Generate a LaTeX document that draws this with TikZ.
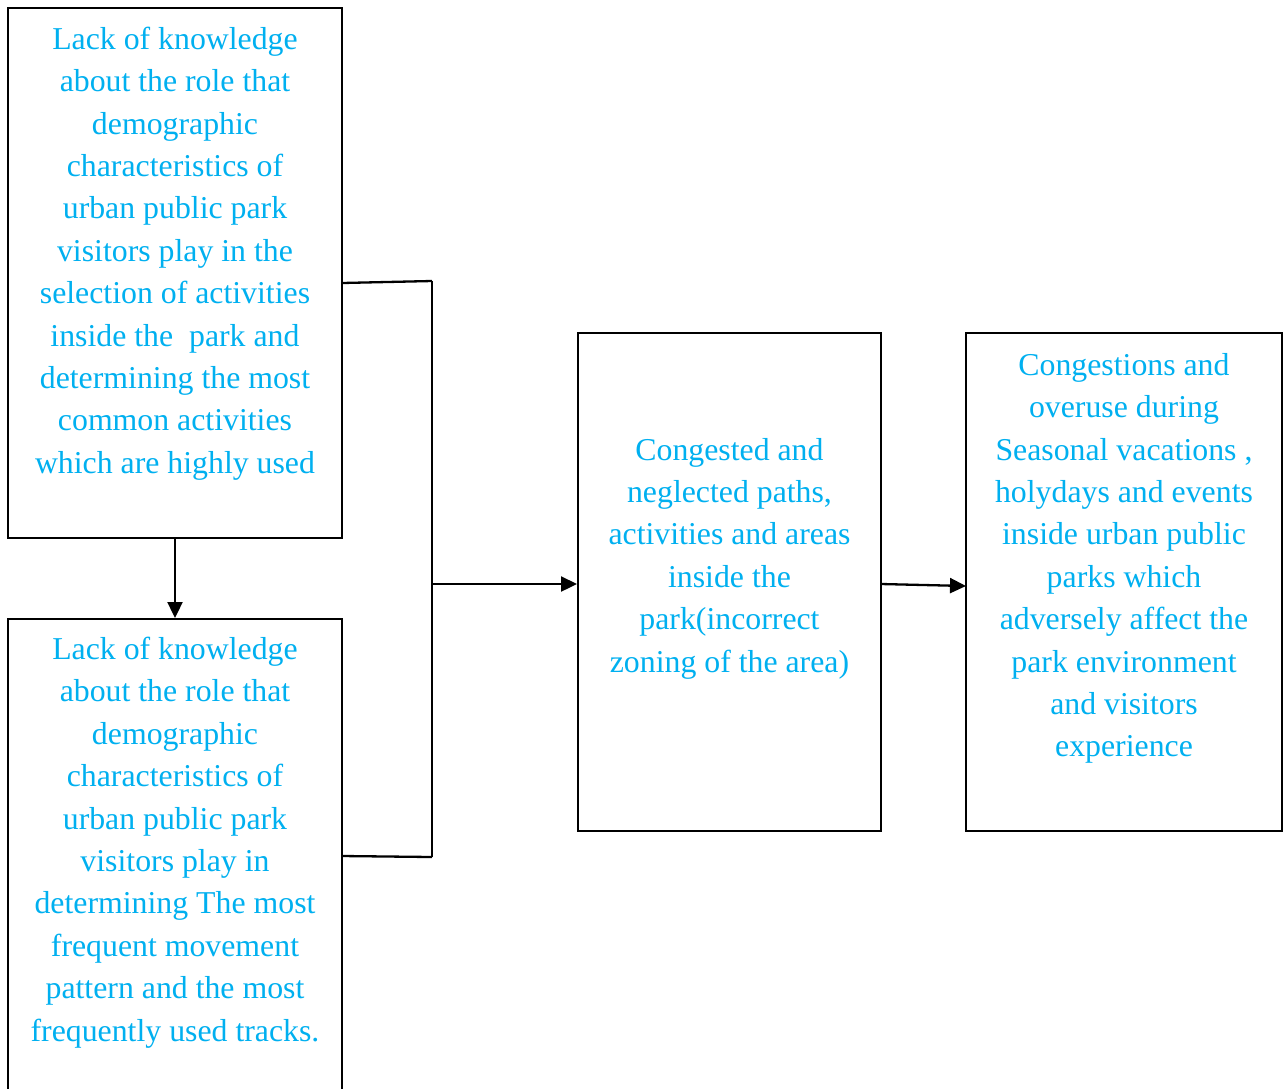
\documentclass[tikz,border=0pt]{standalone}
\usepackage{fontspec}
\setmainfont{Liberation Serif}
\usetikzlibrary{arrows.meta,calc}
\definecolor{txtblue}{HTML}{00B0F0}
\begin{document}
\begin{tikzpicture}[x=1pt,y=-1pt,
  box/.style={draw=black,line width=2pt,minimum width=#1,inner sep=0pt},
  txt/.style={align=center,inner sep=0pt,text=txtblue,font=\fontsize{31.8}{42.4}\selectfont},
  conn/.style={line width=2.3pt,draw=black},
  arr/.style={conn,-{Triangle[length=16pt,width=15pt]}}]
\useasboundingbox (0,0) rectangle (1287,1088);
\clip (0,0) rectangle (1287,1088);
\fill[white] (0,0) rectangle (1287,1088);
% boxes
\node[box=334pt,minimum height=530pt] (A) at (175,273) {};
\node[box=334pt,minimum height=500pt,anchor=north] (B) at (175,618) {};
\node[box=303pt,minimum height=498pt] (C) at (729.5,582) {};
\node[box=316pt,minimum height=498pt] (D) at (1124,582) {};
% texts
\node[txt] (tA) at (175,253.5) {Lack of knowledge\\about the role that\\demographic\\characteristics of\\urban public park\\visitors play in the\\selection of activities\\inside the\ \ park and\\determining the most\\common activities\\which are highly used};
\node[txt] (tB) at (175,842.5) {Lack of knowledge\\about the role that\\demographic\\characteristics of\\urban public park\\visitors play in\\determining The most\\frequent movement\\pattern and the most\\frequently used tracks.};
\node[txt] (tC) at (729.5,558.5) {Congested and\\neglected paths,\\activities and areas\\inside the\\park(incorrect\\zoning of the area)};
\node[txt] (tD) at (1124,558.5) {Congestions and\\overuse during\\Seasonal vacations ,\\holydays and events\\inside urban public\\parks which\\adversely affect the\\park environment\\and visitors\\experience};
% junction coordinates
\coordinate (a1) at (342,283);
\coordinate (b1) at (342,856);
\coordinate (j1) at (432,281);
\coordinate (j2) at (432,857);
\coordinate (jm) at (432,584);
\coordinate (c1) at (881,584);
\coordinate (d1) at (966,586);
% connectors
\draw[conn] (a1) -- (j1);
\draw[conn] (b1) -- (j2);
\draw[conn] (j1) -- (j2);
\draw[arr] (jm) -- (jm -| C.west);
\draw[arr] (c1) -- (d1);
\draw[arr] (A.south) -- (B.north);
\end{tikzpicture}
\end{document}
